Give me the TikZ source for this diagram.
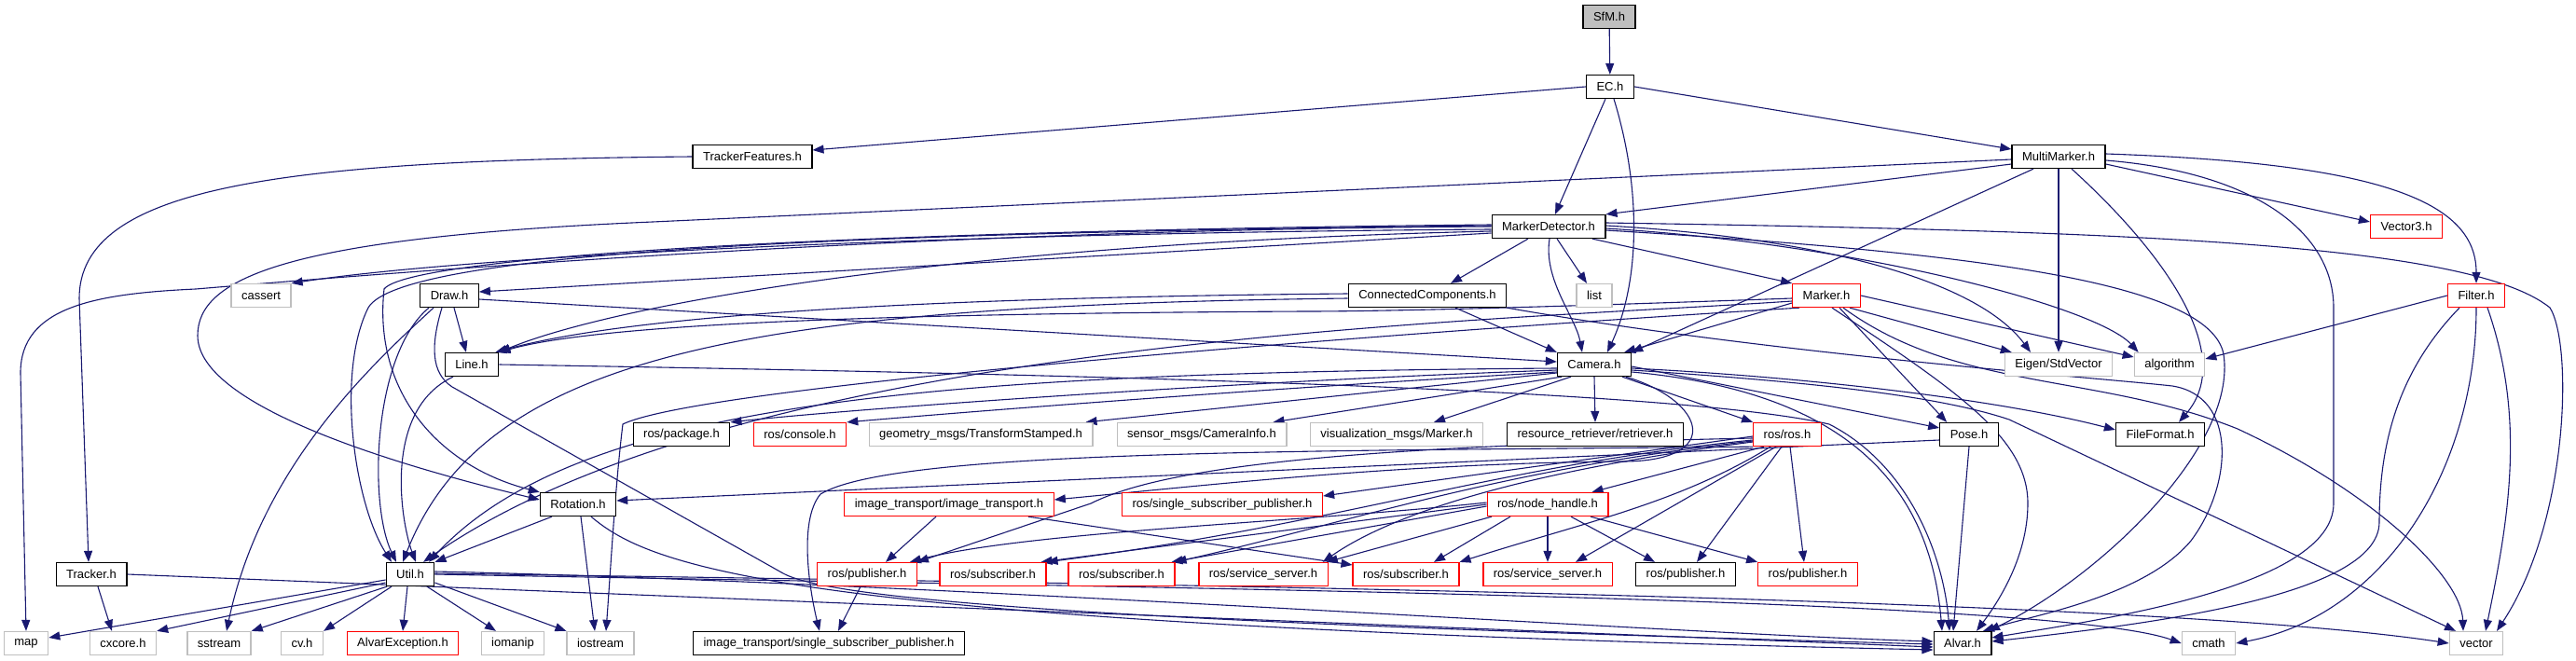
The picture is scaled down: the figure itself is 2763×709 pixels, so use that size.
\documentclass[tikz,border=0pt]{standalone}
\usepackage{fontspec}
\setmainfont{Liberation Sans}
\usetikzlibrary{arrows.meta,backgrounds}
\definecolor{edgeblue}{HTML}{191970}
\definecolor{extgray}{HTML}{BFBFBF}
\begin{document}
\begin{tikzpicture}[x=1pt,y=-1pt,
    hdr/.style={draw=black,line width=1.3pt,fill=white,font=\fontsize{13}{15}\selectfont,
                inner xsep=11pt,inner ysep=0pt,minimum height=25pt},
    exthdr/.style={hdr,draw=extgray},
    trunchdr/.style={hdr,draw=red},
    roothdr/.style={hdr,fill=extgray},
    dep/.style={draw=edgeblue,line width=1.1pt,-{Triangle[length=12pt,width=9pt]}}]
\useasboundingbox (0,0) rectangle (2763,709);

% rows of headers
\node[roothdr] (sfm) at (1726,18) {SfM.h};
\node[hdr] (ec) at (1727,93) {EC.h};
\node[hdr] (tf) at (807,168) {TrackerFeatures.h};
\node[hdr] (mm) at (2208,168) {MultiMarker.h};
\node[hdr] (md) at (1661,243) {MarkerDetector.h};
\node[trunchdr] (vec3) at (2581,243) {Vector3.h};
\node[exthdr] (cassert) at (280,317) {cassert};
\node[hdr] (draw) at (482,317) {Draw.h};
\node[hdr] (cc) at (1531,317) {ConnectedComponents.h};
\node[exthdr] (list) at (1710,317) {list};
\node[trunchdr] (marker) at (1959,317) {Marker.h};
\node[trunchdr] (filter) at (2656,317) {Filter.h};
\node[hdr] (line) at (506,391) {Line.h};
\node[hdr] (camera) at (1710,391) {Camera.h};
\node[exthdr] (eigen) at (2208,391) {Eigen/StdVector};
\node[exthdr] (algo) at (2327,391) {algorithm};
\node[hdr] (rospkg) at (731,466) {ros/package.h};
\node[trunchdr] (roscon) at (858,466) {ros/console.h};
\node[exthdr] (geom) at (1052,466) {geometry\_msgs/TransformStamped.h};
\node[exthdr] (sensor) at (1289,466) {sensor\_msgs/CameraInfo.h};
\node[exthdr] (vis) at (1498,466) {visualization\_msgs/Marker.h};
\node[hdr] (retr) at (1711,466) {resource\_retriever/retriever.h};
\node[trunchdr] (rosros) at (1917,466) {ros/ros.h};
\node[hdr] (pose) at (2112,466) {Pose.h};
\node[hdr] (ff) at (2317,466) {FileFormat.h};
\node[hdr] (rot) at (620,541) {Rotation.h};
\node[trunchdr] (itit) at (1018,541) {image\_transport/image\_transport.h};
\node[trunchdr] (rssp) at (1311,541) {ros/single\_subscriber\_publisher.h};
\node[trunchdr] (nh) at (1660,541) {ros/node\_handle.h};
\node[hdr] (tracker) at (98,616) {Tracker.h};
\node[hdr] (util) at (440,616) {Util.h};
\node[trunchdr] (pubA) at (930,616) {ros/publisher.h};
\node[trunchdr] (subA) at (1065,616) {ros/subscriber.h};
\node[trunchdr] (subB) at (1203,616) {ros/subscriber.h};
\node[trunchdr] (ssA) at (1355,616) {ros/service\_server.h};
\node[trunchdr] (subC) at (1508,616) {ros/subscriber.h};
\node[trunchdr] (ssB) at (1660,616) {ros/service\_server.h};
\node[hdr] (pubB) at (1808,616) {ros/publisher.h};
\node[trunchdr] (pubC) at (1939,616) {ros/publisher.h};
\node[exthdr] (map) at (28,690) {map};
\node[exthdr] (cxcore) at (132,690) {cxcore.h};
\node[exthdr] (sstream) at (235,690) {sstream};
\node[exthdr] (cvh) at (324,690) {cv.h};
\node[trunchdr] (aexc) at (432,690) {AlvarException.h};
\node[exthdr] (iomanip) at (550,690) {iomanip};
\node[exthdr] (iostream) at (644,690) {iostream};
\node[hdr] (itssp) at (889,690) {image\_transport/single\_subscriber\_publisher.h};
\node[hdr] (alvar) at (2105,690) {Alvar.h};
\node[exthdr] (cmath) at (2369,690) {cmath};
\node[exthdr] (vector) at (2656,690) {vector};

\begin{pgfonlayer}{background}
\path[fill=white] (0,0) rectangle (2763,709);
% SfM.h and EC.h
\draw[dep] (sfm) -- (ec);
\draw[dep] (ec.west) -- ([yshift=7pt]tf.east);
\draw[dep] ([xshift=-5pt]ec.south) -- ([xshift=7pt]md.north);
\draw[dep] ([xshift=4pt]ec.south) .. controls (1760,200) and (1760,300) .. ([xshift=14pt]camera.north);
\draw[dep] (ec.east) -- ([yshift=8pt]mm.west);
% TrackerFeatures.h, Tracker.h
\draw[dep] (tf.west) .. controls (300,172) and (85,200) .. (85,320) -- ([xshift=-3pt]tracker.north);
\draw[dep] ([xshift=7pt]tracker.south) -- ([xshift=-12pt]cxcore.north);
\draw[dep] (tracker.east) -- ([yshift=-4pt]alvar.west);
% MultiMarker.h
\draw[dep] ([yshift=-8pt]mm.west) -- (md.north east);
\draw[dep] ([yshift=-3pt]mm.west) -- (700,238) .. controls (300,255) and (212,300) .. (212,360) .. controls (212,440) and (450,505) .. ([yshift=5pt]rot.west);
\draw[dep] ([xshift=-27pt]mm.south) -- (camera.north east);
\draw[dep] (mm.south) -- (eigen.north);
\draw[dep] ([xshift=14pt]mm.south) .. controls (2320,270) and (2400,380) .. ([xshift=20pt]ff.north);
\draw[dep] ([yshift=-4pt]mm.east) .. controls (2420,185) and (2503,250) .. (2503,330) -- (2503,540) .. controls (2503,630) and (2250,665) .. ([yshift=6pt]alvar.east);
\draw[dep] ([yshift=-8pt]mm.east) -- ([yshift=5pt]vec3.west);
\draw[dep] ([yshift=3pt]mm.east) .. controls (2550,175) and (2656,215) .. (filter.north);
% MarkerDetector.h
\draw[dep] (md.west) .. controls (1000,246) and (450,290) .. (210,310) .. controls (100,315) and (22,330) .. (22,400) -- (map.north);
\draw[dep] ([yshift=-3pt]md.west) .. controls (1000,250) and (500,275) .. (cassert.north east);
\draw[dep] ([yshift=-7pt]md.west) -- ([yshift=4pt]draw.east);
\draw[dep] ([yshift=-5pt]md.west) .. controls (1000,262) and (650,330) .. (line.north east);
\draw[dep] ([yshift=1pt]md.west) .. controls (900,250) and (430,270) .. (395,330) .. controls (360,400) and (380,540) .. ([xshift=-20pt]util.north);
\draw[dep] ([yshift=2pt]md.west) .. controls (900,248) and (440,275) .. (412,310) .. controls (400,420) and (470,500) .. (rot.north west);
\draw[dep] ([xshift=-22pt]md.south) -- ([xshift=25pt]cc.north);
\draw[dep] ([xshift=9pt]md.south) -- ([xshift=-8pt]list.north);
\draw[dep] ([xshift=1pt]md.south) .. controls (1655,300) and (1690,340) .. ([xshift=-13pt]camera.north);
\draw[dep] ([xshift=47pt]md.south) -- (marker.north west);
\draw[dep] ([yshift=1pt]md.east) .. controls (1950,255) and (2120,300) .. ([xshift=-30pt]eigen.north);
\draw[dep] ([yshift=-2pt]md.east) .. controls (2000,262) and (2250,330) .. ([xshift=5pt]algo.north west);
\draw[dep] ([yshift=-4pt]md.east) .. controls (2100,270) and (2370,300) .. (2385,380) .. controls (2400,480) and (2250,620) .. ([xshift=28pt]alvar.north);
\draw[dep] ([yshift=4pt]md.east) .. controls (2300,248) and (2650,262) .. (2735,330) .. controls (2760,370) and (2755,560) .. ([xshift=22pt]vector.north);
% ConnectedComponents.h
\draw[dep] ([yshift=2pt]cc.west) .. controls (900,320) and (650,345) .. ([xshift=-4pt]line.north east);
\draw[dep] ([yshift=-3pt]cc.west) .. controls (800,328) and (520,380) .. ([xshift=-8pt]util.north);
\draw[dep] ([xshift=30pt]cc.south) -- (camera.north west);
\draw[dep] (cc.south east) .. controls (1900,380) and (2250,405) .. (2330,414) .. controls (2400,425) and (2395,520) .. (2350,580) .. controls (2300,640) and (2180,660) .. ([xshift=22pt]alvar.north);
% Draw.h
\draw[dep] ([yshift=-4pt]draw.east) -- ([yshift=3pt]camera.west);
\draw[dep] ([xshift=5pt]draw.south) -- ([xshift=-6pt]line.north);
\draw[dep] ([xshift=-22pt]draw.south) .. controls (400,380) and (395,540) .. ([xshift=-15pt]util.north);
\draw[dep] ([xshift=-17pt]draw.south) .. controls (400,390) and (280,500) .. ([xshift=8pt]sstream.north);
\draw[dep] ([xshift=-8pt]draw.south) .. controls (462,370) and (462,400) .. (485,415) -- (840,615) .. controls (900,648) and (1300,670) .. ([yshift=-1pt]alvar.west);
% Line.h
\draw[dep] ([xshift=-20pt]line.south) .. controls (410,440) and (430,560) .. ([xshift=6pt]util.north);
\draw[dep] (line.east) .. controls (1200,402) and (1800,418) .. (1962,455) .. controls (2050,500) and (2085,600) .. ([xshift=-14pt]alvar.north);
% Rotation.h
\draw[dep] ([xshift=-28pt]rot.south) -- (util.north east);
\draw[dep] ([xshift=3pt]rot.south) -- ([xshift=-6pt]iostream.north);
\draw[dep] ([xshift=14pt]rot.south) .. controls (700,610) and (850,670) .. ([yshift=-7pt]alvar.west);
% Util.h
\draw[dep] ([yshift=-6pt]util.west) -- ([yshift=6pt]map.east);
\draw[dep] ([yshift=-9pt]util.west) -- (cxcore.north east);
\draw[dep] ([xshift=-25pt]util.south) -- (sstream.north east);
\draw[dep] ([xshift=-20pt]util.south) -- (cvh.north east);
\draw[dep] ([xshift=-3pt]util.south) -- (aexc.north);
\draw[dep] ([xshift=18pt]util.south) -- ([xshift=-18pt]iomanip.north);
\draw[dep] ([yshift=-9pt]util.east) -- (iostream.north west);
\draw[dep] ([yshift=3pt]util.east) .. controls (1000,625) and (1800,680) .. ([yshift=2pt]alvar.west);
\draw[dep] (util.east) .. controls (1200,630) and (2200,640) .. (cmath.west);
\draw[dep] ([yshift=1pt]util.east) .. controls (1200,626) and (2300,640) .. (vector.west);
% Camera.h
\draw[dep] ([yshift=-4pt]camera.west) .. controls (1000,400) and (620,430) .. ([xshift=20pt]util.north);
\draw[dep] ([yshift=-6pt]camera.west) .. controls (1300,410) and (900,440) .. (rospkg.north east);
\draw[dep] ([yshift=-8pt]camera.west) .. controls (1300,420) and (1000,445) .. (roscon.north east);
\draw[dep] ([yshift=-9pt]camera.west) -- ([xshift=-8pt]geom.north east);
\draw[dep] ([xshift=-35pt]camera.south) -- ([xshift=-15pt]sensor.north east);
\draw[dep] ([xshift=-25pt]camera.south) -- ([xshift=40pt]vis.north);
\draw[dep] (camera.south) -- (retr.north);
\draw[dep] ([xshift=30pt]camera.south) -- (rosros.north west);
\draw[dep] ([yshift=-2pt]camera.east) -- ([yshift=7pt]pose.west);
\draw[dep] ([yshift=-4pt]camera.east) .. controls (1950,405) and (2150,430) .. ([yshift=5pt]ff.west);
\draw[dep] ([yshift=-6pt]camera.east) .. controls (1950,410) and (2080,425) .. (2155,450) -- ([xshift=-22pt]vector.north);
\draw[dep] ([yshift=-8pt]camera.east) .. controls (1980,420) and (2070,520) .. ([xshift=-22pt]alvar.north);
\draw[dep] ([xshift=34pt]camera.south) .. controls (1830,430) and (1850,495) .. (1740,495) .. controls (1500,497) and (1300,520) .. ([yshift=5pt]itit.east);
% ros/ros.h
\draw[dep] (rosros.south west) .. controls (1400,484) and (960,482) .. (880,530) .. controls (855,560) and (870,640) .. ([xshift=-10pt]itssp.north);
\draw[dep] ([yshift=-2pt]rosros.west) -- ([yshift=9pt]rssp.east);
\draw[dep] ([yshift=-4pt]rosros.west) .. controls (1500,478) and (1260,495) .. (1170,540) -- (pubA.north east);
\draw[dep] ([yshift=-6pt]rosros.west) .. controls (1600,500) and (1450,560) .. (subA.north east);
\draw[dep] ([yshift=-7pt]rosros.west) .. controls (1600,505) and (1450,560) .. (subB.north east);
\draw[dep] ([yshift=-8pt]rosros.west) .. controls (1600,510) and (1480,560) .. ([xshift=-6pt]ssA.north east);
\draw[dep] ([xshift=-25pt]rosros.south) -- ([xshift=-18pt]nh.north east);
\draw[dep] ([xshift=-18pt]rosros.south) .. controls (1800,540) and (1700,560) .. (subC.north east);
\draw[dep] ([xshift=-12pt]rosros.south) -- ([xshift=30pt]ssB.north);
\draw[dep] ([xshift=-6pt]rosros.south) -- ([xshift=12pt]pubB.north);
\draw[dep] ([xshift=3pt]rosros.south) -- ([xshift=-4pt]pubC.north);
% ros/node_handle.h
\draw[dep] ([yshift=2pt]nh.west) .. controls (1400,560) and (1100,570) .. ([xshift=-8pt]pubA.north east);
\draw[dep] (nh.west) -- ([xshift=-6pt]subA.north east);
\draw[dep] ([yshift=-2pt]nh.west) -- ([xshift=-4pt]subB.north east);
\draw[dep] ([xshift=-60pt]nh.south) -- ([xshift=-2pt]ssA.north east);
\draw[dep] ([xshift=-40pt]nh.south) -- ([xshift=30pt]subC.north);
\draw[dep] (nh.south) -- (ssB.north);
\draw[dep] ([xshift=25pt]nh.south) -- ([xshift=-33pt]pubB.north);
\draw[dep] ([xshift=46pt]nh.south) -- (pubC.north west);
% image_transport
\draw[dep] ([xshift=-14pt]itit.south) -- ([xshift=20pt]pubA.north);
\draw[dep] ([xshift=-28pt]itit.south east) -- ([yshift=10pt]subC.west);
\draw[dep] ([xshift=-7pt]pubA.south) -- ([xshift=10pt]itssp.north);
% Pose.h
\draw[dep] ([yshift=-6pt]pose.west) -- ([yshift=4pt]rot.east);
\draw[dep] (pose.south) -- ([xshift=-10pt]alvar.north);
% Marker.h
\draw[dep] ([yshift=-8pt]marker.west) -- ([xshift=-8pt]camera.north east);
\draw[dep] ([yshift=-3pt]marker.west) .. controls (1700,328) and (1500,334) .. (1400,334) .. controls (1000,336) and (650,345) .. (line.north east);
\draw[dep] ([yshift=-6pt]marker.west) .. controls (1600,345) and (800,360) .. ([xshift=14pt]util.north);
\draw[dep] ([xshift=8pt]marker.south west) .. controls (1600,350) and (760,410) .. (668,455) .. controls (660,520) and (655,610) .. ([xshift=6pt]iostream.north);
\draw[dep] ([xshift=25pt]marker.south) -- ([xshift=8pt]eigen.north west);
\draw[dep] (marker.east) -- ([yshift=8pt]algo.west);
\draw[dep] ([xshift=14pt]marker.south) -- ([xshift=8pt]pose.north west);
\draw[dep] ([xshift=6pt]marker.south) .. controls (2100,420) and (2175,470) .. (2175,540) .. controls (2175,600) and (2140,650) .. ([xshift=15pt]alvar.north);
\draw[dep] ([xshift=18pt]marker.south) .. controls (2100,420) and (2250,400) .. (2400,460) .. controls (2550,530) and (2640,620) .. ([xshift=-14pt]vector.north);
% Filter.h
\draw[dep] (filter.west) -- ([yshift=6pt]algo.east);
\draw[dep] ([xshift=-18pt]filter.south) .. controls (2570,400) and (2552,480) .. (2552,560) .. controls (2552,640) and (2300,670) .. ([yshift=2pt]alvar.east);
\draw[dep] (filter.south) .. controls (2656,500) and (2560,660) .. (cmath.east);
\draw[dep] ([xshift=12pt]filter.south) .. controls (2710,450) and (2690,560) .. ([xshift=10pt]vector.north);
\end{pgfonlayer}
\end{tikzpicture}
\end{document}
